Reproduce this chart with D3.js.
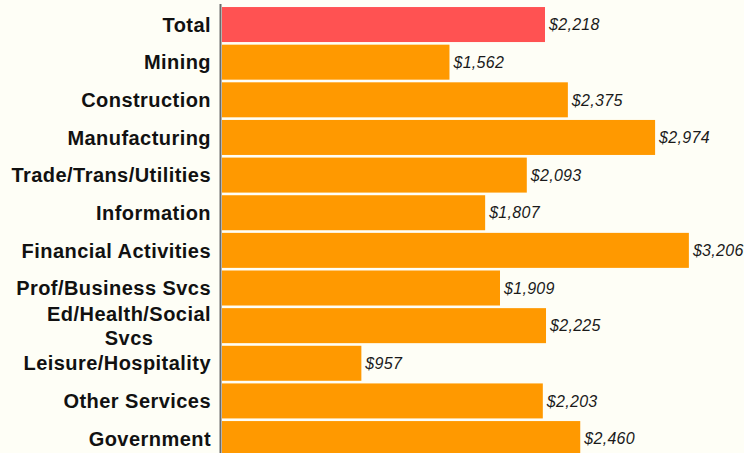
<!DOCTYPE html>
<html>
<head>
<meta charset="utf-8">
<script src="https://cdn.jsdelivr.net/npm/d3@7"></script>
<style>
  html, body { margin: 0; padding: 0; background: #fefef6; }
  svg { display: block; font-family: "Liberation Sans", Arial, sans-serif; }
</style>
</head>
<body>
<div id="chart"></div>
<script>
// categories, top to bottom
const categories = ['Total', 'Mining', 'Construction', 'Manufacturing', 'Trade/Trans/Utilities',
  'Information', 'Financial Activities', 'Prof/Business Svcs', 'Ed/Health/Social Svcs',
  'Leisure/Hospitality', 'Other Services', 'Government'];
const values = [2218, 1562, 2375, 2974, 2093, 1807, 3206, 1909, 2225, 957, 2203, 2460];
// wrapped label lines (only Ed/Health needs two)
const labelLines = {'Ed/Health/Social Svcs': ['Ed/Health/Social', 'Svcs']};

const width = 744, height = 453;
const left = 222;

const data = categories.map((c, i) => ({name: c, value: values[i]}));

const svg = d3.select('#chart').append('svg')
  .attr('width', width)
  .attr('height', height);

svg.append('rect')
  .attr('width', width).attr('height', height)
  .attr('fill', '#fefef6');

// scales
const x = d3.scaleLinear()
  .domain([0, 2218])
  .range([left, 545]);

const y = d3.scaleBand()
  .domain(categories)
  .range([4.4, 458.7])
  .padding(0.07);

// bars
svg.selectAll('rect.bar')
  .data(data)
  .enter().append('rect')
  .attr('class', 'bar')
  .attr('x', x(0))
  .attr('y', d => y(d.name))
  .attr('width', d => x(d.value) - x(0))
  .attr('height', y.bandwidth())
  .attr('fill', d => d.name === 'Total' ? '#ff5252' : '#ff9900');

// value labels
svg.selectAll('text.value')
  .data(data)
  .enter().append('text')
  .attr('class', 'value')
  .attr('x', d => x(d.value) + 4)
  .attr('y', d => y(d.name) + y.bandwidth() / 2)
  .attr('dy', '0.36em')
  .attr('font-size', 16)
  .attr('font-style', 'italic')
  .attr('letter-spacing', 0.3)
  .attr('fill', '#1a1a1a')
  .text(d => '$' + d3.format(',')(d.value));

// category labels
const labels = svg.selectAll('text.name')
  .data(data)
  .enter().append('text')
  .attr('class', 'name')
  .attr('font-size', 20)
  .attr('font-weight', 'bold')
  .attr('letter-spacing', 0.45)
  .attr('fill', '#111');

labels.each(function(d) {
  const t = d3.select(this);
  const cy = y(d.name) + y.bandwidth() / 2;
  const lines = labelLines[d.name];
  if (!lines) {
    t.attr('x', 211).attr('y', cy).attr('dy', '0.36em')
      .attr('text-anchor', 'end').text(d.name);
    return;
  }
  // first line right aligned, the rest centred under it
  const first = t.append('tspan')
    .attr('x', 211).attr('y', cy - 12).attr('dy', '0.36em')
    .attr('text-anchor', 'end').text(lines[0]);
  const w = first.node().getComputedTextLength();
  t.append('tspan')
    .attr('x', 211 - w / 2).attr('y', cy + 12).attr('dy', '0.36em')
    .attr('text-anchor', 'middle').text(lines[1]);
});

// vertical axis line
svg.append('line')
  .attr('x1', 220.5).attr('x2', 220.5)
  .attr('y1', 4).attr('y2', height)
  .attr('stroke', '#6b6b6b')
  .attr('stroke-width', 2);
</script>
</body>
</html>
